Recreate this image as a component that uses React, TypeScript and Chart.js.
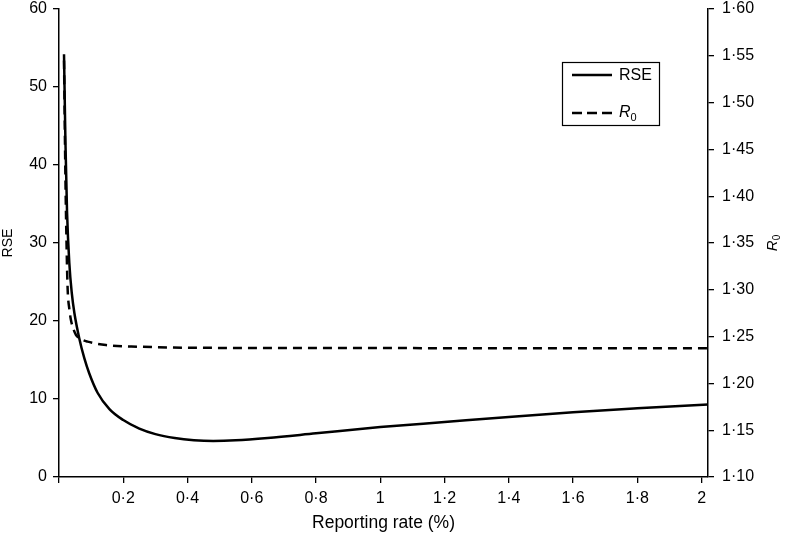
import React, { useEffect, useRef } from "react";
import { Chart, registerables } from "chart.js";

Chart.register(...registerables);

// RSE curve (left axis)
const rseX = [0.0156, 0.02, 0.025, 0.032, 0.04, 0.048, 0.063, 0.079, 0.094, 0.12, 0.157, 0.2, 0.25, 0.3, 0.36, 0.42, 0.48, 0.55, 0.65, 0.8, 1.0, 1.2, 1.4, 1.6, 1.8, 2.02];
const rseY = [54.2, 43, 34, 27.5, 23.5, 21.0, 17.8, 15.2, 13.3, 10.8, 8.7, 7.3, 6.2, 5.5, 5.0, 4.72, 4.62, 4.7, 5.0, 5.6, 6.4, 7.05, 7.7, 8.3, 8.8, 9.3];

// R0 curve (right axis)
const r0X = [0.0156, 0.02, 0.024, 0.027, 0.032, 0.037, 0.045, 0.053, 0.07, 0.089, 0.146, 0.25, 0.4, 0.8, 1.4, 2.02];
const r0Y = [1.545, 1.42, 1.34, 1.3, 1.28, 1.268, 1.258, 1.2517, 1.247, 1.2446, 1.241, 1.2392, 1.2381, 1.2378, 1.2376, 1.2375];

const xTicks = [0, 0.2, 0.4, 0.6, 0.8, 1, 1.2, 1.4, 1.6, 1.8, 2];
const xTitle = "Reporting rate (%)";
const leftTitle = "RSE";
const seriesNames = ["RSE", "R"];

const FONT = "'Liberation Sans', Arial, Helvetica, sans-serif";

const dot = (s: string) => s.replace(".", "\u00b7");

const overlay = {
  id: "overlay",
  afterDraw(chart: any) {
    const ctx = chart.ctx;
    const ca = chart.chartArea;
    ctx.save();
    // legend box
    const bx = ca.right - 146;
    const by = ca.top + 53;
    const bw = 97;
    const bh = 63;
    ctx.strokeStyle = "#000";
    ctx.lineWidth = 1.2;
    ctx.strokeRect(bx + 0.5, by + 0.5, bw, bh);
    // RSE entry
    ctx.lineWidth = 2.5;
    ctx.setLineDash([]);
    ctx.beginPath();
    ctx.moveTo(bx + 10, by + 13);
    ctx.lineTo(bx + 50, by + 13);
    ctx.stroke();
    ctx.fillStyle = "#000";
    ctx.font = `16px ${FONT}`;
    ctx.textBaseline = "middle";
    ctx.textAlign = "left";
    ctx.fillText(seriesNames[0], bx + 57, by + 14);
    // R0 entry
    ctx.setLineDash([10, 5]);
    ctx.beginPath();
    ctx.moveTo(bx + 10, by + 51);
    ctx.lineTo(bx + 50, by + 51);
    ctx.stroke();
    ctx.setLineDash([]);
    ctx.font = `italic 16px ${FONT}`;
    ctx.fillText(seriesNames[1], bx + 57, by + 51);
    const rw = ctx.measureText(seriesNames[1]).width;
    ctx.font = `11px ${FONT}`;
    ctx.fillText("0", bx + 57 + rw, by + 56);

    // right axis title (R0), rotated
    ctx.translate(ca.right + 65, (ca.top + ca.bottom) / 2);
    ctx.rotate(-Math.PI / 2);
    ctx.font = `italic 15px ${FONT}`;
    ctx.textAlign = "left";
    const w1 = ctx.measureText(seriesNames[1]).width;
    ctx.font = `10px ${FONT}`;
    const w2 = ctx.measureText("0").width;
    const start = -(w1 + w2) / 2;
    ctx.font = `italic 15px ${FONT}`;
    ctx.fillText(seriesNames[1], start, 0);
    ctx.font = `10px ${FONT}`;
    ctx.fillText("0", start + w1, 4);
    ctx.restore();
  },
};

const noPad = (scale: any) => {
  scale.paddingTop = 0;
  scale.paddingBottom = 0;
  scale.paddingLeft = 0;
  scale.paddingRight = 0;
};

export default function App() {
  const ref = useRef<HTMLCanvasElement | null>(null);

  useEffect(() => {
    if (!ref.current) return;
    Chart.defaults.font.family = FONT;
    Chart.defaults.color = "#000";
    const axisCommon = {
      grid: {
        display: true,
        drawOnChartArea: false,
        drawTicks: true,
        tickLength: 6,
        color: "#000",
        lineWidth: 1.3,
      },
      border: { display: true, color: "#000", width: 1.5 },
    };
    const chart = new Chart(ref.current, {
      type: "line",
      data: {
        datasets: [
          {
            label: "RSE",
            data: rseX.map((x, i) => ({ x, y: rseY[i] })),
            borderColor: "#000",
            backgroundColor: "#000",
            borderWidth: 2.5,
            pointRadius: 0,
            cubicInterpolationMode: "monotone",
            yAxisID: "y",
          },
          {
            label: "R0",
            data: r0X.map((x, i) => ({ x, y: r0Y[i] })),
            borderColor: "#000",
            backgroundColor: "#000",
            borderWidth: 2.5,
            borderDash: [9, 6],
            pointRadius: 0,
            cubicInterpolationMode: "monotone",
            yAxisID: "y1",
          },
        ],
      },
      options: {
        animation: false,
        responsive: false,
        maintainAspectRatio: false,
        layout: { padding: { top: 9, left: 0, right: 0, bottom: 0 } },
        plugins: { legend: { display: false }, tooltip: { enabled: false } },
        scales: {
          x: {
            type: "linear",
            min: 0,
            max: 2.02,
            ...axisCommon,
            afterBuildTicks: (scale: any) => {
              scale.ticks = xTicks.map((v) => ({ value: v }));
            },
            afterFit: (scale: any) => {
              scale.height = 60;
              noPad(scale);
            },
            ticks: {
              font: { size: 16 },
              padding: 6,
              maxRotation: 0,
              autoSkip: false,
              callback: (v: any) => (v === 0 ? "" : dot(String(Math.round(v * 10) / 10))),
            },
            title: {
              display: true,
              text: xTitle,
              font: { size: 17.5 },
              padding: { top: 0, bottom: 3 },
            },
          },
          y: {
            type: "linear",
            position: "left",
            min: 0,
            max: 60,
            ...axisCommon,
            afterFit: (scale: any) => {
              scale.width = 59;
              noPad(scale);
            },
            ticks: { stepSize: 10, font: { size: 16 }, padding: 6 },
            title: {
              display: true,
              text: leftTitle,
              font: { size: 14 },
              padding: { top: 0, bottom: 0 },
            },
          },
          y1: {
            type: "linear",
            position: "right",
            min: 1.1,
            max: 1.6,
            ...axisCommon,
            afterFit: (scale: any) => {
              scale.width = 82;
              noPad(scale);
            },
            ticks: {
              stepSize: 0.05,
              font: { size: 16 },
              padding: 8,
              callback: (v: any) => dot(Number(v).toFixed(2)),
            },
          },
        },
      },
      plugins: [overlay],
    } as any);
    return () => chart.destroy();
  }, []);

  return (
    <div style={{ position: "absolute", left: 0, top: 0, width: 790, height: 537, background: "#fff" }}>
      <canvas ref={ref} width={790} height={537} style={{ width: 790, height: 537 }} />
    </div>
  );
}
